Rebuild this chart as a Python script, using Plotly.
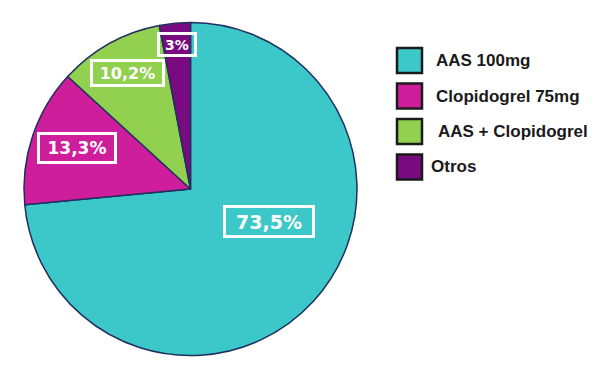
import plotly.graph_objects as go

labels = ["AAS 100mg", "Clopidogrel 75mg", "AAS + Clopidogrel", "Otros"]
values = [73.5, 13.3, 10.2, 3.0]
value_text = ["73,5%", "13,3%", "10,2%", "3%"]
colors = ["#3CC8C8", "#CF1E9B", "#92D050", "#7A0A80"]

W, H = 600, 382
cx, cy, R = 190.5, 189, 166.5

fig = go.Figure(go.Pie(
    labels=labels, values=values, sort=False, direction="clockwise", rotation=0,
    marker=dict(colors=colors, line=dict(color="#1F2F60", width=1.5)),
    textinfo="none", hoverinfo="label+percent", showlegend=False,
    domain=dict(x=[(cx - R) / W, (cx + R) / W], y=[1 - (cy + R) / H, 1 - (cy - R) / H]),
))

# slice label boxes (pixel centre, box w, box h, font size)
label_boxes = [(269, 221, 92, 33, 19), (77, 148, 80, 32, 17), (127.5, 73, 75, 28, 16), (177, 44.5, 40, 25, 14)]
for txt, (x, y, bw, bh, fs) in zip(value_text, label_boxes):
    fig.add_annotation(
        x=x / W, y=1 - y / H, xref="paper", yref="paper", text=f"<b>{txt}</b>",
        showarrow=False, font=dict(family="DejaVu Sans", size=fs, color="white"),
        bordercolor="white", borderwidth=3, borderpad=0, width=bw - 6, height=bh - 6,
        xanchor="center", yanchor="middle",
    )

# legend
leg_x0, leg_y0, sq, step = 397, 48, 25, 35.5
text_x = [434, 434, 436, 429]
for i, (lab, col) in enumerate(zip(labels, colors)):
    y0 = leg_y0 + i * step
    fig.add_shape(type="rect", xref="paper", yref="paper",
                  x0=leg_x0 / W, x1=(leg_x0 + sq) / W,
                  y0=1 - (y0 + sq) / H, y1=1 - y0 / H,
                  fillcolor=col, line=dict(color="#1a1a1a", width=2.5))
    fig.add_annotation(x=text_x[i] / W, y=1 - (y0 + sq / 2) / H, xref="paper", yref="paper",
                       text=f"<b>{lab}</b>", showarrow=False, xanchor="left", yanchor="middle",
                       font=dict(family="Liberation Sans, Arial", size=17, color="#1a1a1a"))

fig.update_layout(width=W, height=H, margin=dict(l=0, r=0, t=0, b=0),
                  paper_bgcolor="white", plot_bgcolor="white")
fig.write_html("out.html", config={"displayModeBar": False},
               post_script="document.body.style.margin='0';")
